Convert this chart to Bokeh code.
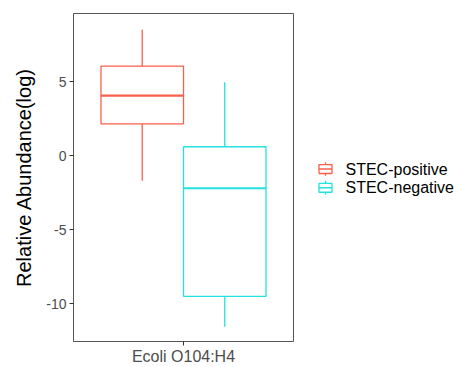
from bokeh.plotting import figure
from bokeh.layouts import row
from bokeh.models import Range1d, FixedTicker, ColumnDataSource
from bokeh.core.properties import value
from bokeh.embed import file_html
from bokeh.resources import INLINE

# ---- data ----
groups = ["STEC-positive", "STEC-negative"]
category = "Ecoli O104:H4"
lower = [-1.7, -11.55]
q1 = [2.15, -9.5]
median = [4.05, -2.2]
q3 = [6.05, 0.6]
upper = [8.5, 4.95]
colors = ["#FA5F4A", "#22E2E2"]
yticks = [-10, -5, 0, 5]
ytick_labels = ["-10", "-5", "0", "5"]

FONT = "Liberation Sans"
n = len(groups)
dodge_total = 0.9
w = dodge_total / n
xs = [1 - dodge_total / 2 + w * (i + 0.5) for i in range(n)]

src = ColumnDataSource(dict(
    x=xs, x0=[x - w / 2 for x in xs], x1=[x + w / 2 for x in xs],
    lower=lower, q1=q1, median=median, q3=q3, upper=upper, color=colors,
))

p = figure(width=300, height=367, output_backend="svg", toolbar_location=None,
           x_range=Range1d(0.4, 1.6), y_range=Range1d(-12.55, 9.6),
           min_border_left=73, min_border_right=7, min_border_top=13, min_border_bottom=23)
p.background_fill_color = "white"
p.border_fill_color = "white"
p.outline_line_color = "#555555"
p.outline_line_width = 1
p.xgrid.visible = False
p.ygrid.visible = False

# whiskers
p.segment(x0="x", y0="q3", x1="x", y1="upper", source=src, line_color="color", line_width=1.3)
p.segment(x0="x", y0="lower", x1="x", y1="q1", source=src, line_color="color", line_width=1.3)
# boxes
p.quad(left="x0", right="x1", bottom="q1", top="q3", source=src,
       fill_color="white", line_color="color", line_width=1.3)
# medians
p.segment(x0="x0", y0="median", x1="x1", y1="median", source=src, line_color="color", line_width=2.2)

# axes styling
p.xaxis.ticker = FixedTicker(ticks=[1])
p.xaxis.major_label_overrides = {1: category}
p.yaxis.ticker = FixedTicker(ticks=yticks)
p.yaxis.major_label_overrides = dict(zip(yticks, ytick_labels))
for ax in (p.xaxis[0], p.yaxis[0]):
    ax.axis_line_color = None
    ax.major_tick_line_color = "#333333"
    ax.major_tick_in = 0
    ax.major_tick_out = 4
    ax.minor_tick_line_color = None
    ax.major_label_text_font = FONT
    ax.major_label_text_color = "#4d4d4d"
    ax.major_label_standoff = 3
p.yaxis.major_label_text_font_size = "14px"
p.xaxis.major_label_text_font_size = "16px"
p.xaxis.major_label_standoff = 2
p.yaxis.axis_label = "Relative Abundance(log)"
p.yaxis.axis_label_text_font = FONT
p.yaxis.axis_label_text_font_style = "normal"
p.yaxis.axis_label_text_font_size = "20px"
p.yaxis.axis_label_text_color = "black"
p.yaxis.axis_label_standoff = 8

# ---- legend panel ----
leg = figure(width=163, height=367, output_backend="svg", toolbar_location=None,
             x_range=Range1d(0, 163), y_range=Range1d(367, 0),
             min_border=0)
leg.axis.visible = False
leg.grid.visible = False
leg.outline_line_color = None
leg.background_fill_color = "white"
leg.border_fill_color = "white"

key_cx = 25
key_cy = [174 + 21 * i for i in range(n)]
ksrc = ColumnDataSource(dict(
    cx=[key_cx] * n, cy=key_cy,
    x0=[key_cx - 6.5] * n, x1=[key_cx + 6.5] * n,
    top=[c - 7.5 for c in key_cy], bt=[c + 7.5 for c in key_cy],
    b0=[c - 5 for c in key_cy], b1=[c + 5 for c in key_cy],
    color=colors, label=groups, tx=[key_cx + 20] * n,
))
leg.segment(x0="cx", y0="top", x1="cx", y1="bt", source=ksrc, line_color="color", line_width=1.3)
leg.quad(left="x0", right="x1", top="b0", bottom="b1", source=ksrc,
         fill_color="white", line_color="color", line_width=1.3)
leg.segment(x0="x0", y0="cy", x1="x1", y1="cy", source=ksrc, line_color="color", line_width=1.5)
leg.text(x="tx", y="cy", text="label", source=ksrc, text_font=value(FONT),
         text_font_size="16px", text_baseline="middle", text_align="left", text_color="black")

layout = row(p, leg, spacing=0)
open("out.html", "w").write(file_html(layout, INLINE))
